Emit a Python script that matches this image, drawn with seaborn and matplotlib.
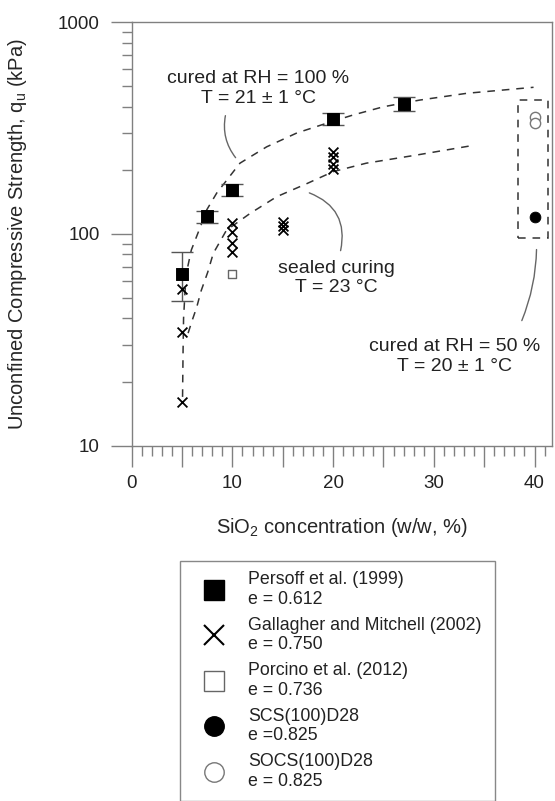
import numpy as np
import seaborn as sns
import matplotlib.pyplot as plt
from matplotlib.lines import Line2D
from matplotlib.patches import Rectangle
from matplotlib.ticker import MultipleLocator, LogLocator, FuncFormatter, NullFormatter

# Persoff et al. (1999) - mean and error bar limits
persoff_x = [5, 7.5, 10, 20, 27]
persoff_q = [65, 121, 161, 349, 411]
persoff_hi = [82.5, 129, 172, 371, 445]
persoff_lo = [48.3, 113, 151, 328, 381]

# Gallagher and Mitchell (2002)
gallagher_x = [5, 5, 5, 10, 10, 10, 10, 15, 15, 15, 20, 20, 20, 20]
gallagher_q = [55, 34.5, 16.1, 113, 102, 91, 82, 114, 109, 104, 245, 230, 215, 202]

# Porcino et al. (2012)
porcino_x = [10]
porcino_q = [64.5]

# SCS(100)D28 and SOCS(100)D28
scs_x = [40]
scs_q = [120]
socs_x = [40, 40]
socs_q = [358, 335]

# fitted trends
upper_x = [5.05, 5.1, 5.15, 5.3, 5.45, 5.92, 6.75, 7.45, 8.44, 10.75, 13.4, 16.4, 19.4, 22.0, 25.0, 28.6, 33.3, 39.9]
upper_q = [17, 28, 40, 54, 66, 84, 106, 130, 156, 216, 258, 300, 334, 365, 399, 429, 462, 493]
lower_x = [5.6, 6.0, 6.45, 6.9, 7.55, 8.1, 9.4, 11.75, 14.4, 17.4, 20.0, 23.3, 28.3, 34.1]
lower_q = [34, 39, 45, 54, 66, 81, 104, 125, 150, 173, 197, 216, 236, 263]

# box around the RH = 50 % results
box_x = [38.4, 41.3]
box_q = [96, 430]

sns.set_theme(style='white')
plt.rcParams['font.family'] = ['Liberation Sans', 'DejaVu Sans']
plt.rcParams['mathtext.fontset'] = 'custom'
plt.rcParams['mathtext.rm'] = 'Liberation Sans'
plt.rcParams['mathtext.it'] = 'Liberation Sans:italic'
plt.rcParams['text.color'] = '#222222'

fig = plt.figure(figsize=(5.55, 8.01), dpi=100)
ax = fig.add_axes([0.2373, 0.4436, 0.7567, 0.5286])
ax.set_yscale('log')

dash = (0, (5, 4.5))

# trend lines
sns.lineplot(x=upper_x, y=upper_q, sort=False, estimator=None, ax=ax,
             color='#333333', lw=1.1, linestyle=dash, zorder=2)
sns.lineplot(x=lower_x, y=lower_q, sort=False, estimator=None, ax=ax,
             color='#333333', lw=1.1, linestyle=dash, zorder=2)

# error bars then the markers
q = np.array(persoff_q)
ax.errorbar(persoff_x, persoff_q,
            yerr=[q - np.array(persoff_lo), np.array(persoff_hi) - q],
            fmt='none', ecolor='#555555', elinewidth=1, capsize=7.8, capthick=1, zorder=3)
sns.scatterplot(x=persoff_x, y=persoff_q, marker='s', s=70, color='black',
                edgecolor='black', ax=ax, zorder=4, legend=False)
sns.scatterplot(x=gallagher_x, y=gallagher_q, marker='x', s=50, color='black',
                linewidth=1.3, ax=ax, zorder=4, legend=False)
sns.scatterplot(x=porcino_x, y=porcino_q, marker='s', s=40, color='white',
                edgecolor='#666666', linewidth=1, ax=ax, zorder=4, legend=False)
sns.scatterplot(x=scs_x, y=scs_q, marker='o', s=60, color='black',
                edgecolor='black', ax=ax, zorder=4, legend=False)
sns.scatterplot(x=socs_x, y=socs_q, marker='o', s=55, color='white',
                edgecolor='#777777', linewidth=1, ax=ax, zorder=4, legend=False)

ax.add_patch(Rectangle((box_x[0], box_q[0]), box_x[1] - box_x[0], box_q[1] - box_q[0],
                       fill=False, ec='#333333', lw=1.1, ls=dash, zorder=2))

# annotations with curved leader lines
lead = dict(arrowstyle='-', color='#666666', lw=1)
ax.annotate('', xy=(10.49, 224), xytext=(9.36, 373),
            arrowprops=dict(lead, connectionstyle='arc3,rad=0.25'))
ax.text(12.55, 486, 'cured at RH = 100 %\nT = 21 ± 1 °C', ha='center', va='center',
        fontsize=14, multialignment='center')
ax.annotate('', xy=(17.38, 158), xytext=(20.68, 81),
            arrowprops=dict(lead, connectionstyle='arc3,rad=0.45'))
ax.text(20.29, 61.9, 'sealed curing\nT = 23 °C', ha='center', va='center',
        fontsize=14, multialignment='center')
ax.annotate('', xy=(40.2, 87), xytext=(38.63, 37.9),
            arrowprops=dict(lead, connectionstyle='arc3,rad=0.1'))
ax.text(32.1, 26.4, 'cured at RH = 50 %\nT = 20 ± 1 °C', ha='center', va='center',
        fontsize=14, multialignment='center')

# axes
ax.set_xlim(0, 41.7)
ax.set_ylim(10, 1000)
ax.xaxis.set_major_locator(MultipleLocator(5))
ax.xaxis.set_minor_locator(MultipleLocator(1))
ax.xaxis.set_major_formatter(FuncFormatter(lambda v, p: f'{v:.0f}' if round(v) % 10 == 0 else ''))
ax.yaxis.set_major_locator(LogLocator(base=10, numticks=5))
ax.yaxis.set_minor_locator(LogLocator(base=10, subs=np.arange(2, 10), numticks=20))
ax.yaxis.set_major_formatter(FuncFormatter(lambda v, p: f'{v:.0f}'))
ax.yaxis.set_minor_formatter(NullFormatter())

ax.tick_params(which='major', direction='out', length=15, width=1, color='#808080',
               labelsize=13.5, labelcolor='#222222', left=True, bottom=True)
ax.tick_params(which='minor', direction='out', length=7.5, width=1, color='#808080',
               left=True, bottom=True)
ax.tick_params(axis='y', which='major', pad=8)
ax.tick_params(axis='x', which='major', pad=6)
for sp in ax.spines.values():
    sp.set_color('#808080')
    sp.set_linewidth(1)

ax.set_xlabel('SiO$_\\mathrm{2}$ concentration (w/w, %)', fontsize=14.5)
ax.set_ylabel('Unconfined Compressive Strength, q$_\\mathrm{u}$ (kPa)', fontsize=14.5)
ax.xaxis.set_label_coords(0.5, -0.165)
ax.yaxis.set_label_coords(-0.245, 0.5)

# legend below the plot
handles = [
    Line2D([], [], marker='s', ms=14, color='black', ls='none'),
    Line2D([], [], marker='x', ms=14, color='black', mew=1.5, ls='none'),
    Line2D([], [], marker='s', ms=14, mfc='white', mec='#666666', mew=1, ls='none'),
    Line2D([], [], marker='o', ms=14, color='black', ls='none'),
    Line2D([], [], marker='o', ms=14, mfc='white', mec='#777777', mew=1, ls='none'),
]
labels = [
    'Persoff et al. (1999)\ne = 0.612',
    'Gallagher and Mitchell (2002)\ne = 0.750',
    'Porcino et al. (2012)\ne = 0.736',
    'SCS(100)D28\ne =0.825',
    'SOCS(100)D28\ne = 0.825',
]
leg = fig.legend(handles, labels, loc='upper left',
                 bbox_to_anchor=(180 / 555, 0.0, 315 / 555, 1 - 560.7 / 801),
                 bbox_transform=fig.transFigure, mode='expand', borderaxespad=0,
                 fontsize=12.8, frameon=True, fancybox=False, framealpha=1,
                 edgecolor='#888888', borderpad=0.6, labelspacing=0.5,
                 handlelength=2.6, handletextpad=0.65)
leg.get_frame().set_linewidth(1)

fig.savefig('out.png', dpi=100)
